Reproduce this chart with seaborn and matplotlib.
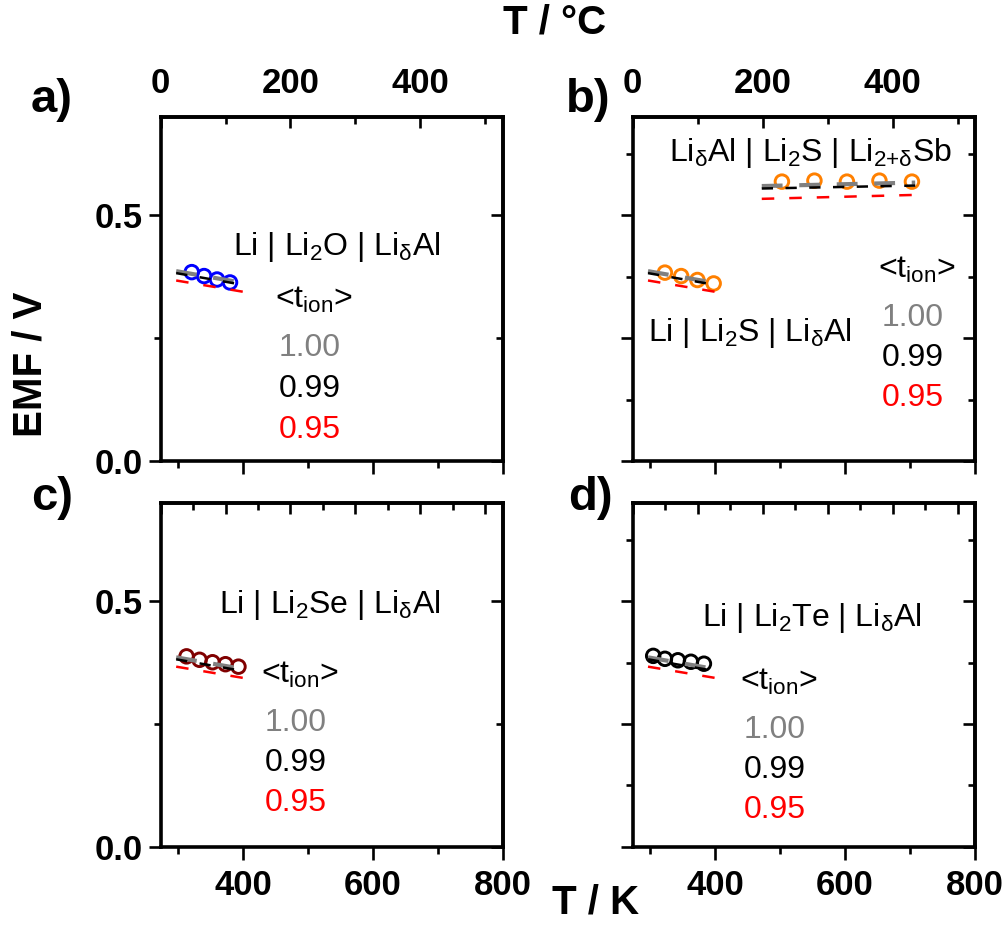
import matplotlib
matplotlib.use("Agg")
import matplotlib.pyplot as plt
from matplotlib.ticker import MultipleLocator, FixedLocator
import seaborn as sns

sns.set_style("ticks")
plt.rcParams['font.family'] = ['Liberation Sans', 'DejaVu Sans']
plt.rcParams['mathtext.fontset'] = 'custom'
plt.rcParams['mathtext.rm'] = 'Liberation Sans'
plt.rcParams['mathtext.it'] = 'Liberation Sans:italic'
plt.rcParams['mathtext.bf'] = 'Liberation Sans:bold'
for k in ['text.color', 'axes.labelcolor', 'xtick.color', 'ytick.color', 'axes.edgecolor']:
    plt.rcParams[k] = 'black'

# ---------------- data ----------------
# panel a : Li | Li2O | LiδAl
a_T = [321, 340, 360, 380]
a_E = [0.384, 0.376, 0.369, 0.363]
# panel b : Li | Li2S | LiδAl (low T) and LiδAl | Li2S | Li2+δSb (high T)
b_low_T = [323, 348, 373, 398]
b_low_E = [0.383, 0.376, 0.368, 0.361]
b_high_T = [503, 553, 603, 653, 703]
b_high_E = [0.568, 0.570, 0.568, 0.570, 0.568]
# panel c : Li | Li2Se | LiδAl
c_T = [313, 333, 353, 373, 393]
c_E = [0.388, 0.381, 0.376, 0.372, 0.367]
# panel d : Li | Li2Te | LiδAl
d_T = [305, 323, 343, 363, 383]
d_E = [0.389, 0.383, 0.380, 0.377, 0.373]

# model lines for <t_ion> = 1.00 / 0.99 / 0.95
low_line_T = [297, 405]
low_E_100 = [0.386, 0.361]
low_E_099 = [0.382, 0.357]
low_E_095 = [0.367, 0.343]
high_line_T = [472, 708]
high_E_100 = [0.559, 0.566]
high_E_099 = [0.554, 0.560]
high_E_095 = [0.533, 0.541]

t_ion_labels = ["1.00", "0.99", "0.95"]
x_major_K = [400, 600, 800]
y_major_labels = [0.0, 0.5]
top_major_C = [0, 200, 400]

# ---------------- layout ----------------
W, H = 1008, 927
fig = plt.figure(figsize=(W / 100, H / 100), dpi=100)


def rect(l, t, r, b):
    return [l / W, 1 - b / H, (r - l) / W, (b - t) / H]


def fxy(x, y):
    return x / W, 1 - y / H


axes = {
    'a': fig.add_axes(rect(160.7, 116.7, 502.5, 461)),
    'b': fig.add_axes(rect(632.5, 116.7, 975, 461)),
    'c': fig.add_axes(rect(160.7, 503.3, 502.5, 846.7)),
    'd': fig.add_axes(rect(632.5, 503.3, 975, 846.7)),
}

GRAY, BLACK, RED = '#808080', 'black', '#FF0000'
LW_SP = 2.6
TICK_FS = 25


def draw_lines(ax, T, e100, e099, e095):
    sns.lineplot(x=T, y=e100, ax=ax, color=GRAY, linewidth=3.0,
                 linestyle=(0, (5, 4)), zorder=3, estimator=None)
    sns.lineplot(x=T, y=e099, ax=ax, color=BLACK, linewidth=1.8,
                 linestyle=(0, (4.5, 5)), zorder=4, estimator=None)
    sns.lineplot(x=T, y=e095, ax=ax, color=RED, linewidth=1.8,
                 linestyle=(0, (5, 6)), zorder=4, estimator=None)


def draw_pts(ax, T, E, col):
    sns.scatterplot(x=T, y=E, ax=ax, marker='o', s=95, facecolor='none',
                    edgecolor=col, linewidth=2.1, zorder=2)


def style_axis(ax, key):
    ax.set_xlim(273.15, 800)
    ax.set_ylim(0, 0.7)
    for sp in ax.spines.values():
        sp.set_visible(True)
        sp.set_linewidth(LW_SP)
        sp.set_color('black')
    ax.set_xlabel('')
    ax.set_ylabel('')
    # bottom axis
    ax.xaxis.set_major_locator(FixedLocator(x_major_K))
    ax.xaxis.set_minor_locator(MultipleLocator(100))
    ax.tick_params(axis='x', which='major', direction='out', length=9, width=1.9,
                   pad=7, labelsize=TICK_FS, top=False)
    ax.tick_params(axis='x', which='minor', direction='out', length=5, width=1.9, top=False)
    # left axis
    if key in ('a', 'c'):
        ax.yaxis.set_major_locator(FixedLocator(y_major_labels))
        ax.yaxis.set_minor_locator(MultipleLocator(0.25))
    else:
        ax.yaxis.set_major_locator(MultipleLocator(0.25))
        ax.yaxis.set_minor_locator(MultipleLocator(0.125))
    ax.tick_params(axis='y', which='major', direction='out', length=9, width=1.9,
                   pad=4, labelsize=TICK_FS, right=False)
    ax.tick_params(axis='y', which='minor', direction='out', length=5, width=1.9, right=False)
    ax.yaxis.set_major_formatter(plt.FuncFormatter(lambda v, p: f"{v:.1f}"))
    for lab in ax.get_xticklabels() + ax.get_yticklabels():
        lab.set_fontweight('bold')
    if key in ('a', 'b'):
        ax.tick_params(axis='x', labelbottom=False)
    if key in ('b', 'd'):
        ax.tick_params(axis='y', labelleft=False)
    # top axis in degC
    sec = ax.secondary_xaxis('top', functions=(lambda k: k - 273.15, lambda c: c + 273.15))
    sec.spines['top'].set_linewidth(LW_SP)
    if key in ('a', 'b'):
        sec.xaxis.set_major_locator(FixedLocator(top_major_C))
        sec.xaxis.set_minor_locator(MultipleLocator(100))
        sec.tick_params(axis='x', which='major', direction='in', length=8, width=1.9,
                        pad=12, labelsize=TICK_FS)
        for lab in sec.get_xticklabels():
            lab.set_fontweight('bold')
    else:
        sec.xaxis.set_major_locator(MultipleLocator(100))
        sec.xaxis.set_minor_locator(MultipleLocator(50))
        sec.tick_params(axis='x', which='major', direction='in', length=8, width=1.9,
                        labeltop=False)
    sec.tick_params(axis='x', which='minor', direction='in', length=5, width=1.9)
    # right axis
    secy = ax.secondary_yaxis('right')
    secy.spines['right'].set_linewidth(LW_SP)
    if key in ('a', 'c'):
        secy.yaxis.set_major_locator(FixedLocator(y_major_labels))
        secy.yaxis.set_minor_locator(MultipleLocator(0.25))
    else:
        secy.yaxis.set_major_locator(MultipleLocator(0.25))
        secy.yaxis.set_minor_locator(MultipleLocator(0.125))
    secy.tick_params(axis='y', which='major', direction='in', length=9, width=1.9, labelright=False)
    secy.tick_params(axis='y', which='minor', direction='in', length=5, width=1.9)


# panel a
ax = axes['a']
draw_pts(ax, a_T, a_E, '#0000FF')
draw_lines(ax, low_line_T, low_E_100, low_E_099, low_E_095)
# panel b
ax = axes['b']
draw_pts(ax, b_low_T, b_low_E, '#FF8000')
draw_pts(ax, b_high_T, b_high_E, '#FF8000')
draw_lines(ax, low_line_T, low_E_100, low_E_099, low_E_095)
draw_lines(ax, high_line_T, high_E_100, high_E_099, high_E_095)
# panel c
ax = axes['c']
draw_pts(ax, c_T, c_E, '#800000')
draw_lines(ax, low_line_T, low_E_100, low_E_099, low_E_095)
# panel d
ax = axes['d']
draw_pts(ax, d_T, d_E, '#000000')
draw_lines(ax, low_line_T, low_E_100, low_E_099, low_E_095)

for k, ax in axes.items():
    style_axis(ax, k)

# ---------------- texts ----------------
TXT_FS = 23
sub2 = r'$\mathregular{_2}$'
subd = r'$\mathregular{_δ}$'
subion = r'$\mathregular{_{ion}}$'
tion = '<t' + subion + '>'


def ftext(x, y, s, **kw):
    fig.text(*fxy(x, y), s, ha='center', va='center', **kw)


def tion_block(x, y0, dy):
    ftext(x + 4, y0, tion, fontsize=TXT_FS)
    for i, (lab, col) in enumerate(zip(t_ion_labels, [GRAY, BLACK, RED])):
        ftext(x, y0 + 48 + i * dy, lab, fontsize=TXT_FS, color=col)


ftext(337, 247, 'Li | Li' + sub2 + 'O | Li' + subd + 'Al', fontsize=TXT_FS)
tion_block(310, 300, 41)

ftext(810, 153, 'Li' + subd + 'Al | Li' + sub2 + 'S | Li' + r'$\mathregular{_{2{+}δ}}$' + 'Sb',
      fontsize=TXT_FS)
ftext(750, 333, 'Li | Li' + sub2 + 'S | Li' + subd + 'Al', fontsize=TXT_FS)
tion_block(913, 270, 40)

ftext(330, 605, 'Li | Li' + sub2 + 'Se | Li' + subd + 'Al', fontsize=TXT_FS)
tion_block(296, 675, 40)

ftext(812, 618, 'Li | Li' + sub2 + 'Te | Li' + subd + 'Al', fontsize=TXT_FS)
tion_block(775, 682, 40)

# panel letters
for lab, (x, y) in {'a)': (52, 100), 'b)': (588, 100), 'c)': (52, 498), 'd)': (590, 498)}.items():
    ftext(x, y, lab, fontsize=34, fontweight='bold')

# axis titles
ftext(555, 23, 'T / °C', fontsize=29, fontweight='bold')
ftext(596, 903, 'T / K', fontsize=29, fontweight='bold')
fig.text(*fxy(30, 364), 'EMF / V', fontsize=29, fontweight='bold', rotation=90,
         ha='center', va='center')

fig.savefig('out.png', dpi=100)
